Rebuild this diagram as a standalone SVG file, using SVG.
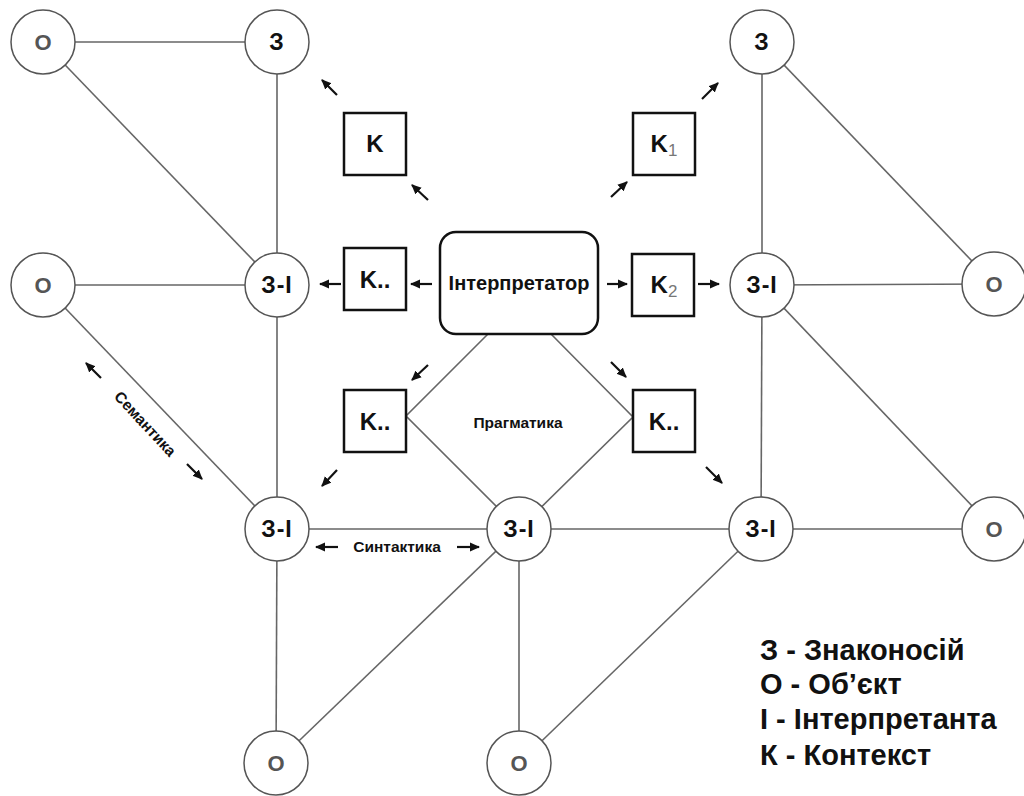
<svg xmlns="http://www.w3.org/2000/svg" width="1024" height="796" viewBox="0 0 1024 796">
<defs>
<marker id="ah" markerUnits="userSpaceOnUse" markerWidth="10" markerHeight="10" refX="9" refY="5" orient="auto">
<path d="M0,0.5 L10,5 L0,9.5 z" fill="#111"/>
</marker>
<style>
.ln{stroke:#666;stroke-width:1.6;fill:none}
.cir{fill:#fff;stroke:#555;stroke-width:1.5}
.box{fill:#fff;stroke:#111;stroke-width:2.5}
.t{font-family:"Liberation Sans",Arial,sans-serif;font-weight:bold;text-anchor:middle;fill:#111}
.n{font-size:23px;letter-spacing:1px}
.o{font-size:22px;fill:#555}
.k{font-size:24px}
.lbl{font-size:15.5px}
.leg{font-family:"Liberation Sans",Arial,sans-serif;font-weight:bold;font-size:29px;fill:#111}
.ar{stroke:#111;stroke-width:2.2;fill:none;marker-end:url(#ah)}
</style>
</defs>
<rect width="1024" height="796" fill="#fff"/>
<g id="connectors">
<line class="ln" x1="43" y1="42" x2="277" y2="42"/>
<line class="ln" x1="43" y1="42" x2="277" y2="285"/>
<line class="ln" x1="277" y1="42" x2="277" y2="285"/>
<line class="ln" x1="43" y1="285" x2="277" y2="285"/>
<line class="ln" x1="277" y1="285" x2="277" y2="529"/>
<line class="ln" x1="43" y1="285" x2="277" y2="529"/>
<line class="ln" x1="277" y1="529" x2="519" y2="529"/>
<line class="ln" x1="277" y1="529" x2="276" y2="763"/>
<line class="ln" x1="276" y1="763" x2="519" y2="529"/>
<line class="ln" x1="519" y1="529" x2="519" y2="763"/>
<line class="ln" x1="519" y1="763" x2="761" y2="529"/>
<line class="ln" x1="519" y1="529" x2="761" y2="529"/>
<line class="ln" x1="761" y1="529" x2="994" y2="529"/>
<line class="ln" x1="761" y1="529" x2="762" y2="285"/>
<line class="ln" x1="762" y1="285" x2="994" y2="529"/>
<line class="ln" x1="762" y1="285" x2="994" y2="284"/>
<line class="ln" x1="762" y1="42" x2="762" y2="285"/>
<line class="ln" x1="762" y1="42" x2="994" y2="284"/>
<polyline class="ln" points="488,334 406,416 519,529"/>
<polyline class="ln" points="551,334 633,417 519,529"/>
<line class="ar" x1="337" y1="95" x2="322" y2="80"/>
<line class="ar" x1="428" y1="200" x2="412" y2="185"/>
<line class="ar" x1="611" y1="197" x2="627" y2="182"/>
<line class="ar" x1="702" y1="99" x2="718" y2="83"/>
<line class="ar" x1="341" y1="284" x2="320" y2="284"/>
<line class="ar" x1="432" y1="284" x2="411" y2="284"/>
<line class="ar" x1="607" y1="284" x2="627" y2="284"/>
<line class="ar" x1="698" y1="284" x2="719" y2="284"/>
<line class="ar" x1="428" y1="365" x2="412" y2="380"/>
<line class="ar" x1="611" y1="362" x2="626" y2="377"/>
<line class="ar" x1="337" y1="470" x2="322" y2="486"/>
<line class="ar" x1="706" y1="467" x2="722" y2="483"/>
<line class="ar" x1="101" y1="378" x2="86" y2="363"/>
<line class="ar" x1="187" y1="464" x2="202" y2="479"/>
<line class="ar" x1="338" y1="547" x2="316" y2="547"/>
<line class="ar" x1="457" y1="547" x2="479" y2="547"/>
</g>
<g id="n-o-tl"><circle class="cir" cx="43" cy="42" r="32"/><text class="t o" x="43" y="50">O</text></g>
<g id="n-z-tl"><circle class="cir" cx="277" cy="42" r="32"/><text class="t n" x="277" y="50">З</text></g>
<g id="n-z-tr"><circle class="cir" cx="762" cy="42" r="32"/><text class="t n" x="762" y="50">З</text></g>
<g id="n-o-ml"><circle class="cir" cx="43" cy="285" r="32"/><text class="t o" x="43" y="293">O</text></g>
<g id="n-zi-ml"><circle class="cir" cx="277" cy="285" r="32"/><text class="t n" x="277" y="293">З-І</text></g>
<g id="n-zi-mr"><circle class="cir" cx="762" cy="285" r="32"/><text class="t n" x="762" y="293">З-І</text></g>
<g id="n-o-mr"><circle class="cir" cx="994" cy="284" r="32"/><text class="t o" x="994" y="292">O</text></g>
<g id="n-zi-bl"><circle class="cir" cx="277" cy="529" r="32"/><text class="t n" x="277" y="537">З-І</text></g>
<g id="n-zi-bc"><circle class="cir" cx="519" cy="529" r="32"/><text class="t n" x="519" y="537">З-І</text></g>
<g id="n-zi-br"><circle class="cir" cx="761" cy="529" r="32"/><text class="t n" x="761" y="537">З-І</text></g>
<g id="n-o-br"><circle class="cir" cx="994" cy="529" r="32"/><text class="t o" x="994" y="537">O</text></g>
<g id="n-o-bl"><circle class="cir" cx="276" cy="763" r="32"/><text class="t o" x="276" y="771">O</text></g>
<g id="n-o-bc"><circle class="cir" cx="519" cy="763" r="32"/><text class="t o" x="519" y="771">O</text></g>
<g id="n-k-tl"><rect class="box" x="344" y="113" width="62" height="62"/><text class="t k" x="375" y="152">K</text></g>
<g id="n-k1"><rect class="box" x="633" y="113" width="62" height="62"/><text class="t k" x="664" y="152"><tspan>K</tspan><tspan font-size="17" font-weight="normal" fill="#777" dy="4">1</tspan></text></g>
<g id="n-k-ml"><rect class="box" x="344" y="248" width="62" height="62"/><text class="t k" x="375" y="288">K..</text></g>
<g id="n-k2"><rect class="box" x="632" y="254" width="62" height="62"/><text class="t k" x="664" y="293"><tspan>K</tspan><tspan font-size="17" font-weight="normal" fill="#777" dy="4">2</tspan></text></g>
<g id="n-k-ll"><rect class="box" x="344" y="390" width="62" height="62"/><text class="t k" x="375" y="430">K..</text></g>
<g id="n-k-lr"><rect class="box" x="633" y="390" width="62" height="62"/><text class="t k" x="664" y="430">K..</text></g>
<g id="n-interp"><rect class="box" x="440" y="232" width="158" height="102" rx="16"/><text class="t" x="519" y="290" font-size="20">Інтерпретатор</text></g>
<g id="labels">
<text class="t lbl" x="518" y="428">Прагматика</text>
<text class="t lbl" x="397" y="552">Синтактика</text>
<text class="t lbl" transform="translate(145,424) rotate(47)" x="0" y="5">Семантика</text>
</g>
<g id="legend">
<text class="leg" x="760" y="660">З - Знаконосій</text>
<text class="leg" x="760" y="694">О - Об’єкт</text>
<text class="leg" x="760" y="729">І - Інтерпретанта</text>
<text class="leg" x="760" y="765">К - Контекст</text>
</g>
</svg>
